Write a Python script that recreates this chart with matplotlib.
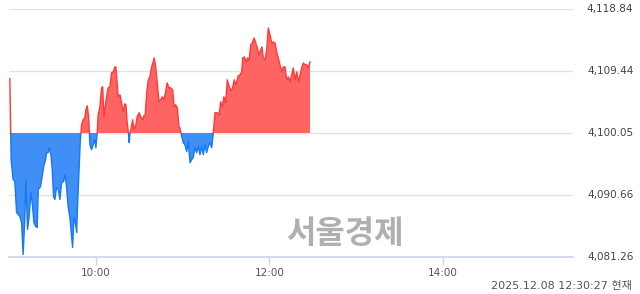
import matplotlib
matplotlib.use("Agg")
import matplotlib.pyplot as plt
import numpy as np
from matplotlib.patches import Rectangle

# minutes since 09:00
minutes = [0.35, 1.25, 2.6, 3.8, 5.0, 6.1, 7.3, 8.45, 9.56, 10.7, 11.4, 12.6, 13.7, 14.9, 16.1, 17.0,
           18.2, 19.3, 20.0, 21.6, 22.7, 23.9, 25.1, 25.8, 26.9, 27.6, 28.8, 29.7, 30.6, 31.5, 32.7,
           33.8, 35.0, 36.2, 37.5, 38.5, 39.6, 40.7, 41.9, 43.1, 43.8, 44.7, 45.9, 46.6, 47.2, 48.1,
           49.05, 50.0, 51.1, 52.3, 53.0, 53.9, 54.9, 55.8, 56.9, 58.1, 59.2, 59.9, 60.8, 61.5, 62.7,
           63.9, 64.6, 65.5, 66.4, 67.3, 68.4, 69.6, 70.8, 71.9, 73.1, 73.8, 74.3, 75.4, 76.6, 77.7,
           78.8, 80.0, 80.7, 81.6, 82.6, 83.0, 83.5, 84.2, 85.4, 86.3, 87.6, 88.5, 89.9, 90.9, 92.3,
           93.2, 94.1, 95.1, 96.2, 97.3, 98.5, 99.6, 100.3, 101.3, 102.4, 103.6, 104.8, 105.9, 107.0,
           108.2, 109.3, 110.5, 111.7, 113.1, 114.0, 115.1, 116.3, 117.4, 118.1, 118.8, 120.4, 121.6,
           122.8, 123.9, 125.1, 126.2, 127.3, 128.5, 129.7, 130.8, 132.0, 133.2, 134.3, 135.4, 136.6,
           137.7, 138.9, 140.1, 141.2, 142.4, 144.0, 145.3, 146.3, 147.4, 148.6, 149.8, 150.9, 152.3,
           153.5, 154.6, 155.7, 156.9, 158.5, 159.7, 160.9, 161.6, 162.7, 163.9, 165.0, 166.1, 167.1,
           168.2, 169.4, 170.6, 171.7, 172.8, 174.0, 174.9, 175.8, 177.0, 178.2, 179.3, 180.5, 181.7,
           182.8, 183.9, 185.1, 186.2, 187.4, 188.6, 189.7, 190.9, 192.0, 193.2, 194.3, 195.5, 196.6,
           197.8, 199.0, 200.1, 201.3, 202.4, 203.6, 204.7, 205.9, 207.0, 208.2]
prices = [4108.28, 4096.00, 4092.98, 4092.67, 4087.98, 4087.67, 4087.37, 4086.46, 4081.61, 4086.92,
          4092.98, 4085.40, 4087.37, 4091.01, 4088.88, 4086.46, 4085.85, 4085.70, 4091.46, 4091.92,
          4093.43, 4095.10, 4096.00, 4097.07, 4097.07, 4097.82, 4096.76, 4094.49, 4090.40, 4089.95,
          4091.76, 4091.61, 4089.95, 4092.52, 4092.67, 4093.73, 4091.92, 4088.88, 4087.22, 4084.34,
          4082.67, 4087.22, 4086.16, 4084.95, 4088.88, 4093.43, 4098.58, 4101.31, 4102.06, 4102.37,
          4103.58, 4104.19, 4102.52, 4098.28, 4097.52, 4098.28, 4099.03, 4097.82, 4100.05, 4102.82,
          4104.03, 4106.91, 4107.06, 4102.52, 4104.03, 4105.55, 4106.91, 4107.06, 4109.19, 4109.34,
          4110.09, 4110.09, 4108.58, 4105.55, 4105.85, 4104.64, 4103.28, 4104.49, 4104.34, 4101.61,
          4099.79, 4098.58, 4100.05, 4100.55, 4102.06, 4100.55, 4101.31, 4102.52, 4103.13, 4102.52,
          4102.06, 4102.67, 4102.82, 4106.16, 4108.12, 4108.58, 4110.09, 4110.85, 4111.46, 4110.09,
          4107.67, 4104.79, 4105.10, 4105.55, 4105.10, 4106.31, 4107.67, 4106.91, 4106.91, 4106.61,
          4104.03, 4104.34, 4103.88, 4101.00, 4100.85, 4100.05, 4098.58, 4098.28, 4097.22, 4098.73,
          4095.55, 4096.00, 4096.31, 4097.82, 4097.07, 4097.97, 4096.76, 4097.97, 4096.76, 4098.28,
          4097.07, 4097.97, 4098.58, 4097.82, 4100.05, 4103.13, 4103.13, 4102.82, 4104.79, 4104.03,
          4105.55, 4104.64, 4108.12, 4107.06, 4106.46, 4106.91, 4108.12, 4107.37, 4108.73, 4108.88,
          4109.34, 4111.46, 4111.61, 4110.85, 4111.46, 4111.15, 4113.43, 4113.73, 4114.49, 4113.73,
          4112.97, 4111.91, 4112.67, 4113.12, 4111.46, 4111.15, 4112.67, 4116.00, 4114.94, 4113.73,
          4113.88, 4113.73, 4112.37, 4111.46, 4110.40, 4109.34, 4110.09, 4110.09, 4108.12, 4108.58,
          4107.82, 4108.88, 4109.94, 4108.12, 4109.34, 4107.82, 4108.88, 4109.94, 4110.70, 4110.40,
          4110.40, 4109.94, 4110.85]

base_price = 4100.05
y_ticks = [4081.26, 4090.66, 4100.05, 4109.44, 4118.84]
y_labels = ["4,081.26", "4,090.66", "4,100.05", "4,109.44", "4,118.84"]
x_ticks = [60, 180, 300]
x_labels = ["10:00", "12:00", "14:00"]
watermark = "서울경제"
timestamp = "2025.12.08 12:30:27 현재"

RED_FILL = "#ff6464"
RED_LINE = "#ff3a3a"
BLUE_FILL = "#3f8ff6"
BLUE_LINE = "#1679f2"

fig = plt.figure(figsize=(6.4, 2.94), dpi=100)
ax = fig.add_axes([9.35 / 640, (294 - 256.7) / 294, (572.6 - 9.35) / 640, (256.7 - 9.3) / 294])

t = np.array(minutes)
v = np.array(prices)
ymin, ymax = y_ticks[0], y_ticks[-1]
ax.set_xlim(0, 390)
ax.set_ylim(ymin, ymax)

ax.fill_between(t, v, base_price, where=v >= base_price, interpolate=True, color=RED_FILL, lw=0, zorder=2)
ax.fill_between(t, v, base_price, where=v <= base_price, interpolate=True, color=BLUE_FILL, lw=0, zorder=2)

red_line, = ax.plot(t, v, color=RED_LINE, lw=1.0, zorder=3)
blue_line, = ax.plot(t, v, color=BLUE_LINE, lw=1.0, zorder=3)
clip_up = Rectangle((0, base_price), 390, ymax - base_price, transform=ax.transData)
clip_dn = Rectangle((0, ymin), 390, base_price - ymin, transform=ax.transData)
red_line.set_clip_path(clip_up)
blue_line.set_clip_path(clip_dn)

for yt in y_ticks[1:]:
    ax.axhline(yt, color="#e3e3e3", lw=1.0, zorder=1)
ax.axhline(y_ticks[0], color="#c9d5ea", lw=1.2, zorder=4, clip_on=False)

for s in ax.spines.values():
    s.set_visible(False)
ax.set_yticks([])
ax.set_xticks(x_ticks)
ax.set_xticklabels(x_labels, fontsize=7.5, color="#555555", family="DejaVu Sans")
ax.tick_params(axis="x", length=6, width=1, color="#c9d5ea", pad=2)

for yt, lab in zip(y_ticks, y_labels):
    ax.text(1.108, (yt - ymin) / (ymax - ymin), lab, transform=ax.transAxes,
            ha="right", va="center", fontsize=7.5, color="#444444", family="DejaVu Sans")

fig.text(345 / 640, 1 - 234 / 294, watermark, ha="center", va="center", fontsize=23,
         fontweight="bold", color="#b0b0b0", family=["Noto Sans CJK KR", "DejaVu Sans"])
fig.text(632 / 640, 1 - 286 / 294, timestamp, ha="right", va="center", fontsize=8,
         color="#555555", family=["DejaVu Sans", "Noto Sans CJK KR"])

fig.savefig("out.png", dpi=100)
